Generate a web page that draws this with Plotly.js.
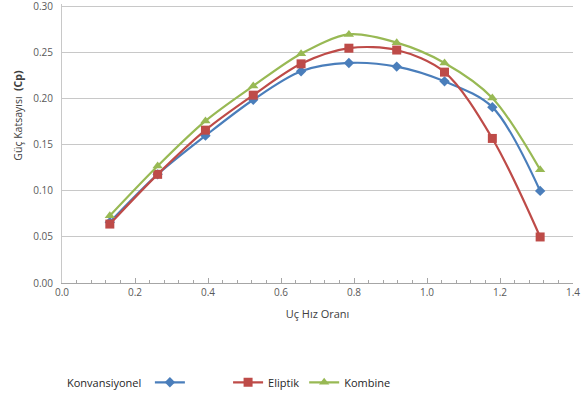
<!DOCTYPE html>
<html>
<head>
<meta charset="utf-8">
<script src="https://cdn.plot.ly/plotly-3.0.1.min.js"></script>
<style>html,body{margin:0;padding:0;background:#fff;}#chart{width:582px;height:405px;}</style>
</head>
<body>
<div id="chart"></div>
<script>
var tsr = [0.131, 0.262, 0.393, 0.524, 0.655, 0.786, 0.917, 1.048, 1.179, 1.310];
var konvansiyonel = [0.066, 0.118, 0.160, 0.199, 0.230, 0.239, 0.235, 0.219, 0.191, 0.100];
var eliptik = [0.064, 0.118, 0.166, 0.204, 0.238, 0.255, 0.253, 0.229, 0.157, 0.050];
var kombine = [0.073, 0.127, 0.176, 0.214, 0.249, 0.270, 0.261, 0.239, 0.201, 0.123];
var xTicks = [0.0, 0.2, 0.4, 0.6, 0.8, 1.0, 1.2, 1.4];
var xTickText = ['0.0', '0.2', '0.4', '0.6', '0.8', '1.0', '1.2', '1.4'];
var yTicks = [0.00, 0.05, 0.10, 0.15, 0.20, 0.25, 0.30];
var yTickText = ['0.00', '0.05', '0.10', '0.15', '0.20', '0.25', '0.30'];

var fontFam = 'Open Sans, Liberation Sans, sans-serif';

var traces = [
  {x: tsr, y: konvansiyonel, name: 'Konvansiyonel', type: 'scatter', mode: 'lines+markers',
   line: {color: '#4a7ebb', width: 2.2, shape: 'spline', smoothing: 0.9},
   marker: {symbol: 'diamond', size: 8, color: '#4a7ebb'}, legend: 'legend2'},
  {x: tsr, y: eliptik, name: 'Eliptik', type: 'scatter', mode: 'lines+markers',
   line: {color: '#be4b48', width: 2.2, shape: 'spline', smoothing: 0.9},
   marker: {symbol: 'square', size: 9, color: '#be4b48'}, legend: 'legend'},
  {x: tsr, y: kombine, name: 'Kombine', type: 'scatter', mode: 'lines+markers',
   line: {color: '#98b954', width: 2.2, shape: 'spline', smoothing: 0.9},
   marker: {symbol: 'triangle-up', size: 9, color: '#98b954'}, legend: 'legend'}
];

var layout = {
  width: 582, height: 405,
  margin: {l: 62, r: 9, t: 4, b: 122},
  paper_bgcolor: '#ffffff', plot_bgcolor: '#ffffff',
  font: {family: fontFam, size: 10, color: '#595959'},
  showlegend: true,
  xaxis: {
    range: [0, 1.4], tickvals: xTicks, ticktext: xTickText,
    showgrid: false, zeroline: false, showline: true, linecolor: '#a6a6a6', linewidth: 1,
    ticks: 'inside', ticklen: 5, tickcolor: '#a6a6a6',
    minor: {dtick: 0.04, tick0: 0, ticks: 'inside', ticklen: 3, tickcolor: '#a6a6a6', showgrid: false},
    tickfont: {size: 10, color: '#595959'},
    title: {text: 'Uç Hız Oranı', font: {size: 11, color: '#404040'}, standoff: 12}
  },
  yaxis: {
    range: [0, 0.303], tickvals: yTicks, ticktext: yTickText,
    showgrid: true, gridcolor: '#c8c8c8', gridwidth: 1,
    zeroline: false, showline: true, linecolor: '#c8c8c8', linewidth: 1,
    ticks: '', tickfont: {size: 10, color: '#595959'}, ticklabelstandoff: 6,
    ticklabeloverflow: 'allow'
  },
  annotations: [{
    text: 'Güç Katsayısı  <b>(Cp)</b>', textangle: -90,
    xref: 'paper', yref: 'paper', x: -0.086, y: 0.6,
    xanchor: 'center', yanchor: 'middle', showarrow: false,
    font: {size: 10.5, color: '#404040', family: fontFam}
  }, {
    text: 'Konvansiyonel',
    xref: 'paper', yref: 'paper', x: 0.006, y: -0.358,
    xanchor: 'left', yanchor: 'middle', showarrow: false,
    font: {size: 11, color: '#262626', family: fontFam}
  }],
  legend: {
    orientation: 'h', x: 0.325, y: -0.356, xanchor: 'left', yanchor: 'middle',
    font: {size: 11, color: '#262626', family: fontFam}, bgcolor: 'rgba(0,0,0,0)',
    itemwidth: 30, tracegroupgap: 0
  },
  legend2: {
    orientation: 'h', x: 0.172, y: -0.356, xanchor: 'left', yanchor: 'middle',
    font: {size: 1, color: 'rgba(0,0,0,0)', family: fontFam}, bgcolor: 'rgba(0,0,0,0)',
    itemwidth: 30
  }
};

Plotly.newPlot('chart', traces, layout, {displayModeBar: false, staticPlot: true});
</script>
</body>
</html>
